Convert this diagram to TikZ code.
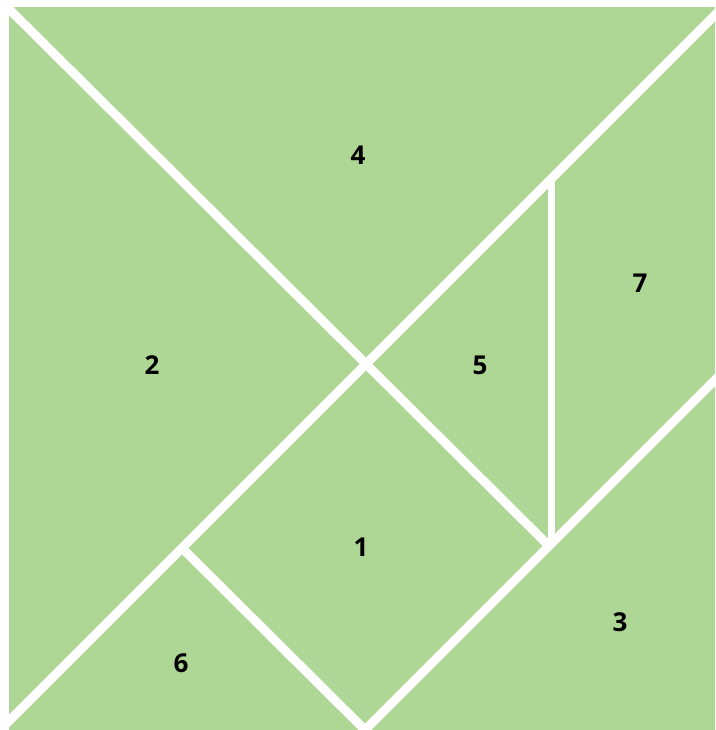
\documentclass[tikz,border=0pt]{standalone}
\usepackage{fontspec}
\setmainfont{Open Sans}
\definecolor{piecegreen}{RGB}{174,214,148}
\tikzset{
  cut/.style={draw=white, line width=9pt},
  thincut/.style={draw=white, line width=7pt},
  lbl/.style={font=\fontsize{26}{26}\selectfont\bfseries, text=black, inner sep=0pt}
}
\begin{document}
\begin{tikzpicture}[x=1pt,y=-1pt]
\useasboundingbox (0,0) rectangle (715,730);
\fill[white] (0,0) rectangle (715,730);
\fill[piecegreen] (9,7) rectangle (715,730);
% key points of the tangram (side 730)
\coordinate (TL) at (0,0);
\coordinate (TR) at (730,0);
\coordinate (BL) at (0,730);
\coordinate (C) at (365,365);
\coordinate (Q) at (549,546);
\coordinate (V) at (551,181);
\coordinate (W) at (551,546);
\coordinate (L) at (182,548);
\coordinate (B) at (365,730);
\coordinate (R) at (730,365);
\begin{scope}
\clip (0,0) rectangle (715,730);
\draw[cut] (TL) -- (Q);
\draw[cut] (TR) -- (BL);
\draw[cut] (B) -- (R);
\draw[cut] (L) -- (B);
\draw[thincut] (V) -- (W);
\end{scope}
\node[lbl] (n4) at (358,155) {4};
\node[lbl] (n2) at (152,365) {2};
\node[lbl] (n5) at (480,365) {5};
\node[lbl] (n7) at (640,283) {7};
\node[lbl] (n1) at (361,547) {1};
\node[lbl] (n3) at (620,622) {3};
\node[lbl] (n6) at (181,663) {6};
\end{tikzpicture}
\end{document}
